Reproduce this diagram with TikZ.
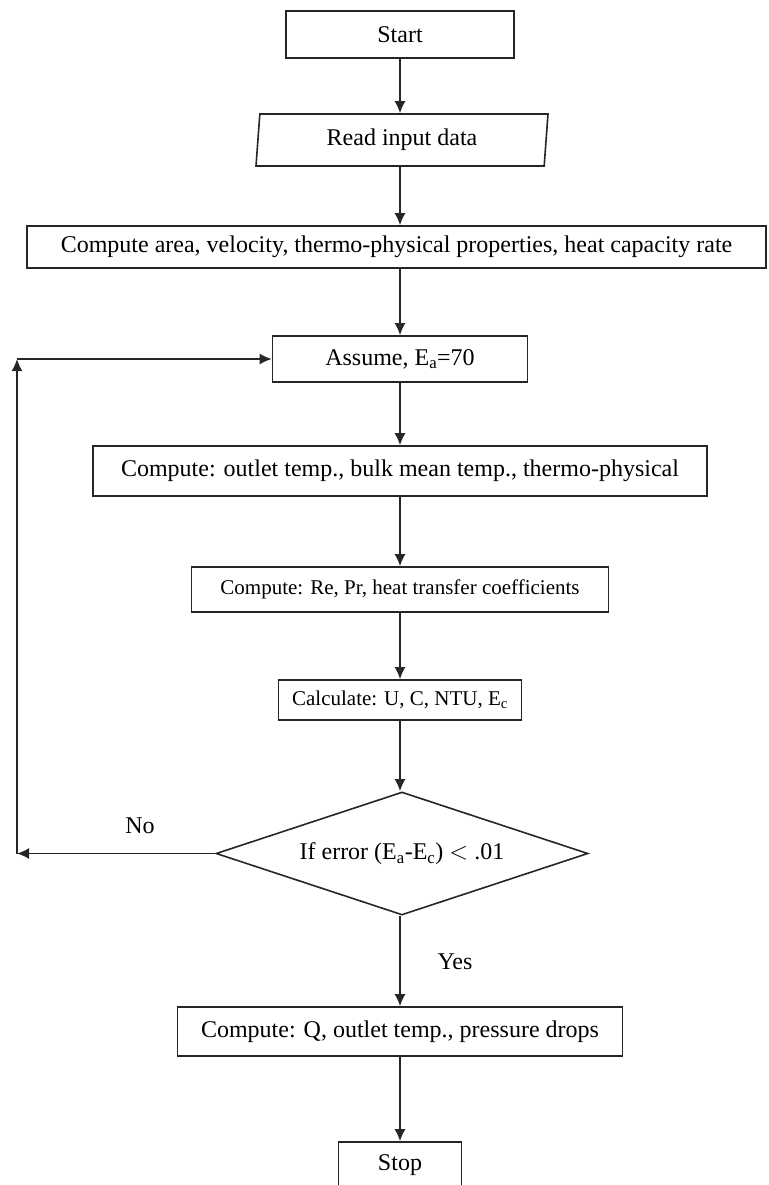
\documentclass[tikz,border=0pt]{standalone}
\usepackage{fontspec}
\setmainfont{Liberation Serif}
\usepackage{tikz}
\usetikzlibrary{arrows.meta,shapes.geometric}

\begin{document}
\begin{tikzpicture}[x=1pt,y=-1pt,
  proc/.style={draw=black!85, line width=1.6pt, inner sep=0pt,
    font=\fontsize{24}{28}\selectfont},
  small/.style={font=\fontsize{21}{25}\selectfont},
  io/.style={proc, trapezium, trapezium left angle=80, trapezium right angle=100,
    trapezium stretches body},
  decision/.style={proc, diamond, aspect=3},
  flow/.style={draw=black!85, line width=1.6pt, -{Latex[length=12pt,width=11pt]}},
  lbl/.style={font=\fontsize{24}{28}\selectfont}]
\clip (0,0) rectangle (768,1185);

% boxes
\node[proc, minimum width=228, minimum height=47] (start) at (400,34.5) {Start};
\node[io, minimum width=292, minimum height=52] (read) at (402,140) {Read input data};
\node[proc, minimum width=739, minimum height=42] (area) at (396.5,247)
  {Compute area, velocity, thermo-physical properties, heat capacity rate};
\node[proc, minimum width=255, minimum height=46] (assume) at (400,359)
  {Assume, E\textsubscript{a}=70};
\node[proc, minimum width=614, minimum height=50] (outlet) at (400,471)
  {Compute: outlet temp., bulk mean temp., thermo-physical};
\node[proc, small, minimum width=417, minimum height=45] (re) at (400,589.5)
  {Compute: Re, Pr, heat transfer coefficients};
\node[proc, small, minimum width=243, minimum height=40] (calc) at (400,700)
  {Calculate: U, C, NTU, E\textsubscript{c}};
\node[decision, minimum width=372, minimum height=123] (cond) at (402,853.5)
  {If error (E\textsubscript{a}-E\textsubscript{c}) {$<$} .01};
\node[proc, minimum width=445, minimum height=49] (result) at (400,1031.5)
  {Compute: Q, outlet temp., pressure drops};
\node[proc, minimum width=123, minimum height=47] (stop) at (400,1165.5) {Stop};

% labels
\node[lbl] (no) at (140,826) {No};
\node[lbl] (yes) at (455,962) {Yes};

% loop corners
\coordinate (loopbot) at (17,853.5);
\coordinate (looptop) at (17,359);

% connectors
\draw[flow] (start) -- (read.north -| start);
\draw[flow] (read.south -| start) -- (area.north -| start);
\draw[flow] (area.south -| assume) -- (assume);
\draw[flow] (assume) -- (outlet);
\draw[flow] (outlet) -- (re);
\draw[flow] (re) -- (calc);
\draw[flow] (calc) -- (cond.north -| calc);
\draw[flow] (cond.south -| result) -- (result);
\draw[flow] (result) -- (stop);
\draw[flow] (cond.west) -- (loopbot);
\draw[flow] (loopbot) -- (looptop);
\draw[flow] (looptop) -- (assume.west);
\end{tikzpicture}
\end{document}
